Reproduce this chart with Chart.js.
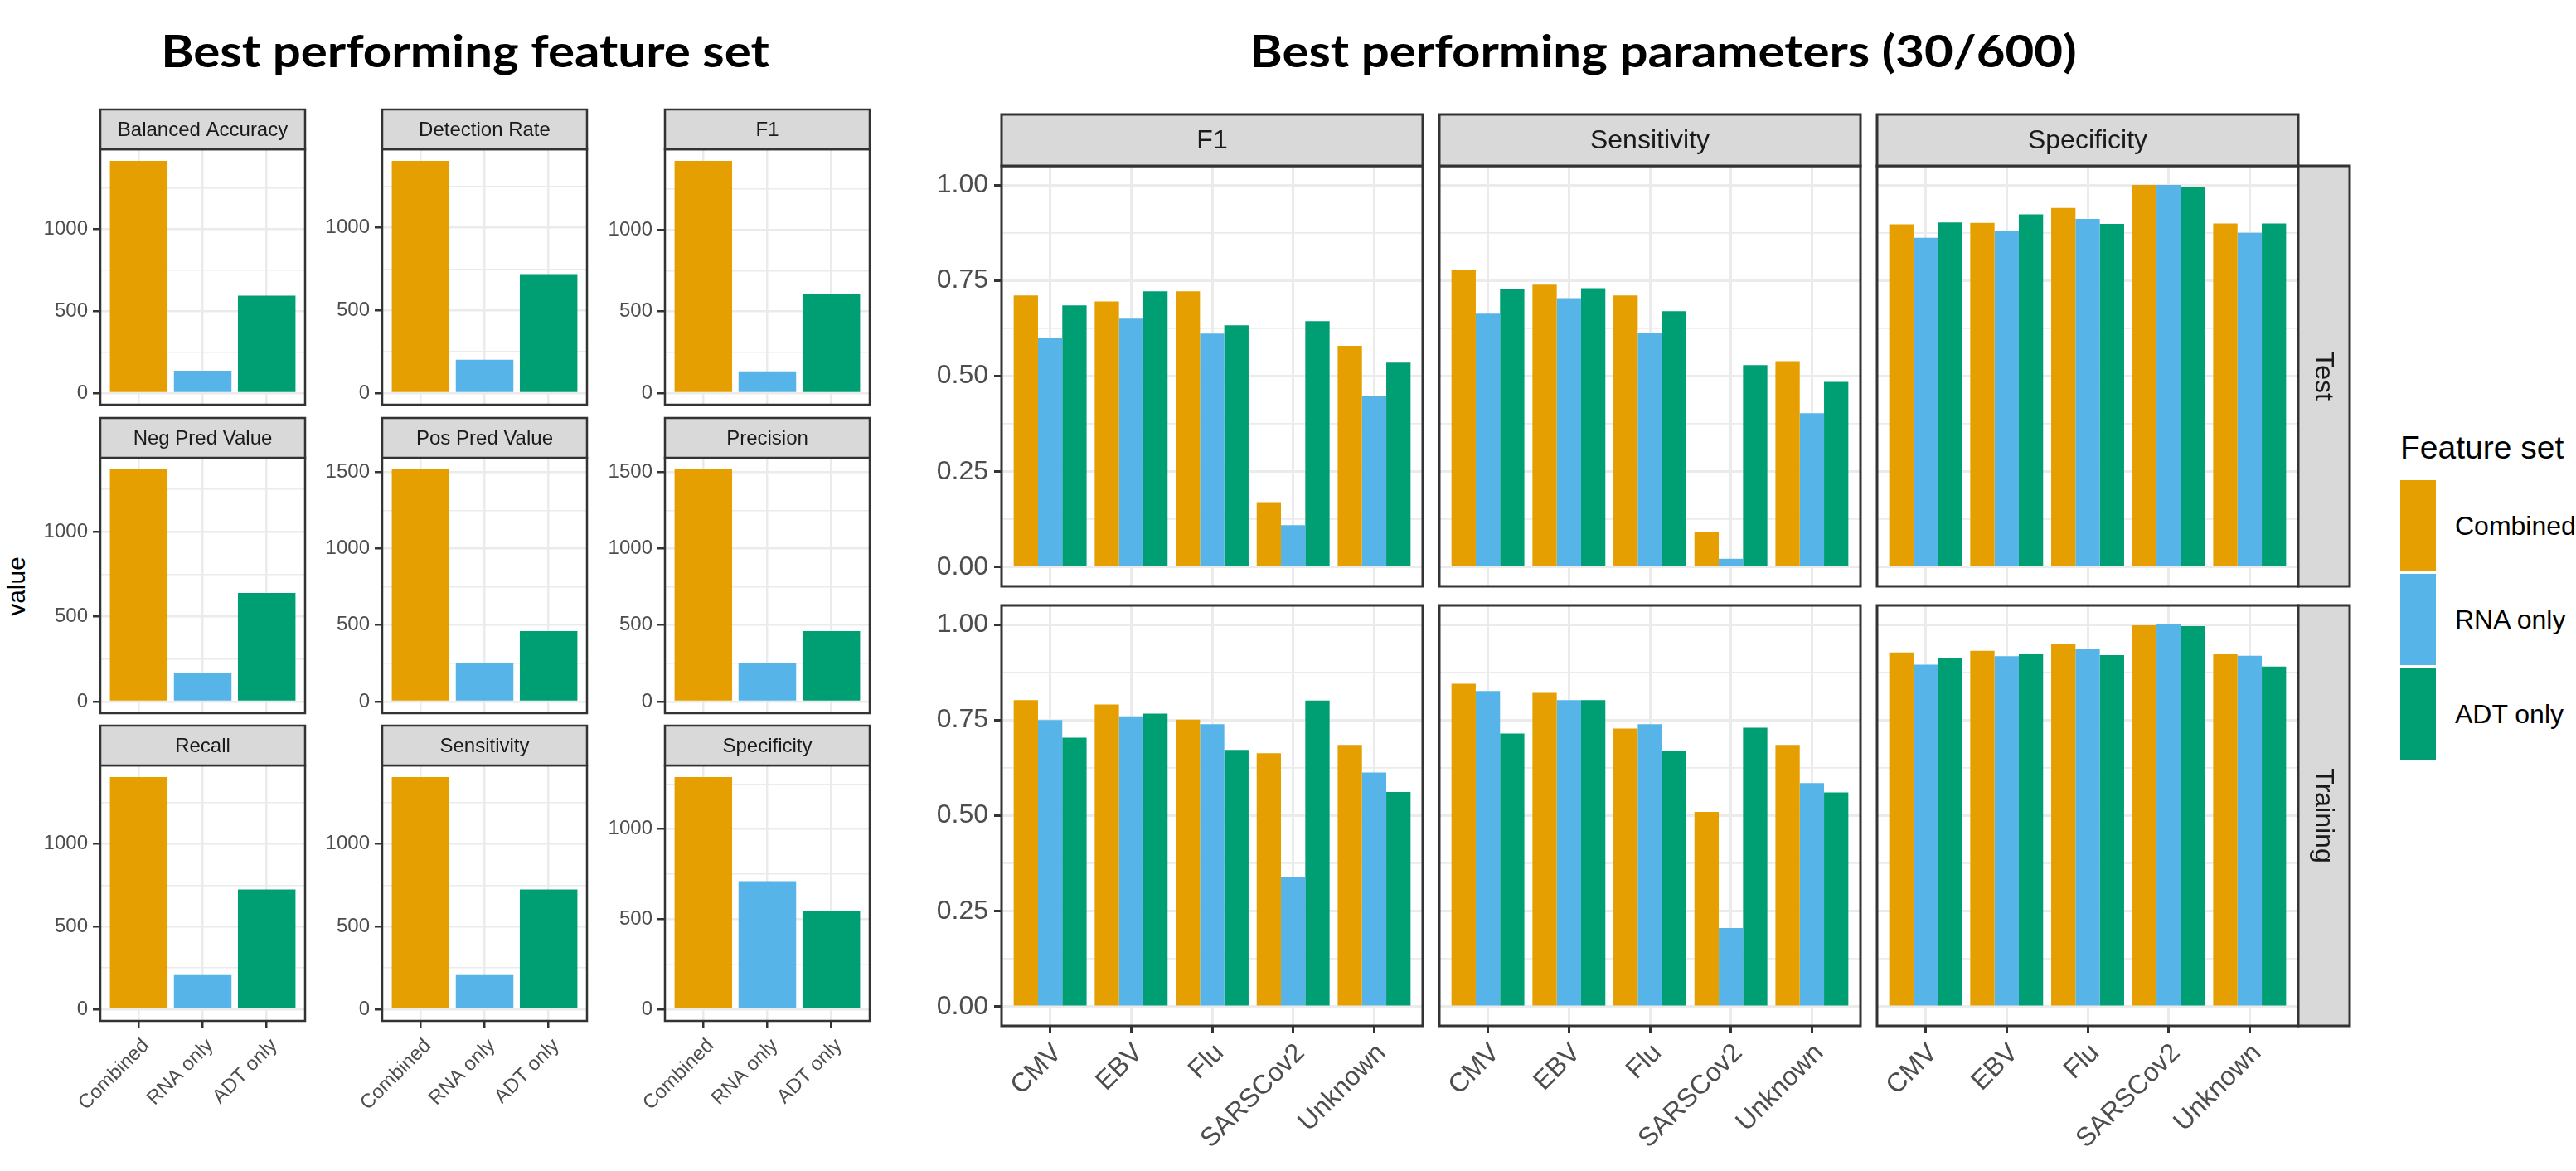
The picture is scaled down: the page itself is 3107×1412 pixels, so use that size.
<!DOCTYPE html>
<html>
<head>
<meta charset="utf-8">
<script src="https://cdn.jsdelivr.net/npm/chart.js@4.4.1/dist/chart.umd.min.js"></script>
<style>
  html, body { margin: 0; padding: 0; background: #ffffff; }
  body { width: 3107px; height: 1412px; position: relative; overflow: hidden; font-family: "Liberation Sans", Arial, sans-serif; }
  canvas { position: absolute; }
  .title { position: absolute; font-family: Lato, "Open Sans", sans-serif; font-weight: 700; font-size: 60px; line-height: 60px; height: 60px; color: #000; white-space: nowrap; text-align: center; transform: scaleY(0.89); transform-origin: 50% 50%; }
  .ylab { position: absolute; font-size: 30px; line-height: 1; color: #000; white-space: nowrap; transform: translate(-50%, -50%) rotate(-90deg); }
  .legtitle { position: absolute; font-size: 39px; line-height: 1; color: #000; white-space: nowrap; }
  .legkey { position: absolute; width: 43px; }
  .legtext { position: absolute; font-size: 32px; line-height: 1; color: #000; white-space: nowrap; }
</style>
</head>
<body>
<div class="title" style="left:61px; top:31px; width:1000px;">Best performing feature set</div>
<div class="title" style="left:1506px; top:31px; width:1000px;">Best performing parameters (30/600)</div>
<div class="ylab" style="left:20px; top:707px;">value</div>
<div id="legend"></div>

<script>
// Fill colours for the three feature sets
const seriesColors = ['#E69F00', '#56B4E9', '#009E73'];
const featureSets = ['Combined', 'RNA only', 'ADT only'];

// Left block: value per feature set for each metric facet
const metricNames = ['Balanced Accuracy', 'Detection Rate', 'F1',
                     'Neg Pred Value', 'Pos Pred Value', 'Precision',
                     'Recall', 'Sensitivity', 'Specificity'];
const balancedAccuracy = [1416, 137, 594];
const detectionRate    = [1402, 201, 718];
const f1Value          = [1422, 133, 605];
const negPredValue     = [1366, 166, 639];
const posPredValue     = [1517, 255, 460];
const precisionValue   = [1517, 255, 460];
const recallValue      = [1402, 206, 724];
const sensitivityValue = [1402, 206, 724];
const specificityValue = [1288, 711, 543];
const metricValues = [balancedAccuracy, detectionRate, f1Value,
                      negPredValue, posPredValue, precisionValue,
                      recallValue, sensitivityValue, specificityValue];

// Right block: per-antigen scores, rows [Combined, RNA only, ADT only]
const antigens = ['CMV', 'EBV', 'Flu', 'SARSCov2', 'Unknown'];
const scoreNames = ['F1', 'Sensitivity', 'Specificity'];
const splitNames = ['Test', 'Training'];
const testF1 = [
  [0.711, 0.695, 0.722, 0.170, 0.579],
  [0.599, 0.650, 0.611, 0.110, 0.449],
  [0.685, 0.722, 0.633, 0.644, 0.535]
];
const testSensitivity = [
  [0.777, 0.739, 0.711, 0.093, 0.539],
  [0.663, 0.704, 0.613, 0.022, 0.403],
  [0.727, 0.730, 0.670, 0.529, 0.485]
];
const testSpecificity = [
  [0.897, 0.901, 0.940, 1.000, 0.899],
  [0.862, 0.879, 0.911, 1.000, 0.875],
  [0.902, 0.923, 0.898, 0.996, 0.899]
];
const trainF1 = [
  [0.802, 0.791, 0.751, 0.663, 0.685],
  [0.750, 0.760, 0.739, 0.339, 0.613],
  [0.704, 0.767, 0.672, 0.801, 0.562]
];
const trainSensitivity = [
  [0.845, 0.821, 0.728, 0.510, 0.685],
  [0.826, 0.802, 0.739, 0.206, 0.585],
  [0.715, 0.802, 0.670, 0.730, 0.561]
];
const trainSpecificity = [
  [0.927, 0.931, 0.949, 0.998, 0.922],
  [0.895, 0.917, 0.936, 1.000, 0.918],
  [0.912, 0.923, 0.920, 0.996, 0.890]
];
const scoreGrid = [
  [testF1, testSensitivity, testSpecificity],
  [trainF1, trainSensitivity, trainSpecificity]
];

// Panel frame + strip labels drawn around each chart area
const facetFrame = {
  id: 'facetFrame',
  afterDraw(chart, args, opts) {
    const { ctx, chartArea: a } = chart;
    ctx.save();
    ctx.lineWidth = opts.borderW;
    ctx.strokeStyle = '#333333';
    ctx.strokeRect(a.left, a.top, a.right - a.left, a.bottom - a.top);
    ctx.font = opts.stripSize + 'px "Liberation Sans", Arial, sans-serif';
    ctx.textAlign = 'center';
    ctx.textBaseline = 'middle';
    if (opts.top) {
      const h = opts.stripH;
      ctx.fillStyle = '#d9d9d9';
      ctx.fillRect(a.left, a.top - h, a.right - a.left, h);
      ctx.strokeRect(a.left, a.top - h, a.right - a.left, h);
      ctx.fillStyle = '#1a1a1a';
      ctx.fillText(opts.top, (a.left + a.right) / 2, a.top - h / 2 + 1);
    }
    if (opts.side) {
      const w = opts.stripH;
      ctx.fillStyle = '#d9d9d9';
      ctx.fillRect(a.right, a.top, w, a.bottom - a.top);
      ctx.strokeRect(a.right, a.top, w, a.bottom - a.top);
      ctx.fillStyle = '#1a1a1a';
      ctx.translate(a.right + w / 2, (a.top + a.bottom) / 2);
      ctx.rotate(Math.PI / 2);
      ctx.fillText(opts.side, 0, 1);
    }
    ctx.restore();
  }
};

function drawFacet(o) {
  const canvas = document.createElement('canvas');
  const W = o.padL + o.w + o.padR, H = o.padT + o.h + o.padB;
  canvas.width = W; canvas.height = H;
  canvas.style.width = W + 'px'; canvas.style.height = H + 'px';
  canvas.style.left = (o.x - o.padL) + 'px';
  canvas.style.top = (o.y - o.padT) + 'px';
  document.body.appendChild(canvas);

  const half = o.yStep / 2;
  const yTicks = [];
  for (let k = 0; k * half <= o.yMax * 1.05 + 1e-9; k++) yTicks.push(+(k * half).toFixed(6));
  const isMajor = v => Math.abs(v / o.yStep - Math.round(v / o.yStep)) < 1e-6;
  const font = { family: '"Liberation Sans", Arial, sans-serif', size: o.tickSize };

  new Chart(canvas, {
    type: 'bar',
    data: { datasets: o.datasets },
    options: {
      responsive: false,
      animation: false,
      devicePixelRatio: 1,
      layout: { padding: { top: o.padT, right: o.padR, left: 0, bottom: 0 } },
      datasets: { bar: { categoryPercentage: 0.9, barPercentage: 1, borderWidth: 0 } },
      plugins: {
        legend: { display: false },
        tooltip: { enabled: false },
        facetFrame: { top: o.stripTop, side: o.stripSide, stripH: o.stripH, stripSize: o.stripSize, borderW: o.borderW }
      },
      scales: {
        x: {
          type: 'linear',
          offset: false,
          min: 0.4,
          max: o.labels.length + 0.6,
          afterBuildTicks: s => { s.ticks = o.labels.map((_, i) => ({ value: i + 1 })); },
          afterFit: s => { s.height = o.padB; s.paddingLeft = 0; s.paddingRight = 0; },
          border: { display: false },
          grid: {
            offset: false,
            color: '#ebebeb', lineWidth: o.majorW,
            drawTicks: o.showX, tickLength: o.tickLen, tickColor: '#333333', tickWidth: o.tickW
          },
          ticks: {
            display: o.showX, autoSkip: false, minRotation: 45, maxRotation: 45,
            padding: o.xPad, labelOffset: o.xOffset, color: '#4d4d4d', font,
            callback: v => o.labels[Math.round(v) - 1] || ''
          }
        },
        y: {
          type: 'linear',
          min: -0.05 * o.yMax,
          max: 1.05 * o.yMax,
          afterBuildTicks: s => { s.ticks = yTicks.map(v => ({ value: v })); },
          afterFit: s => { s.width = o.padL; s.paddingTop = 0; s.paddingBottom = 0; },
          border: { display: false },
          grid: {
            color: '#ebebeb',
            lineWidth: c => isMajor(c.tick.value) ? o.majorW : o.minorW,
            drawTicks: o.showY, tickLength: o.tickLen,
            tickColor: c => isMajor(c.tick.value) ? '#333333' : 'rgba(0,0,0,0)',
            tickWidth: o.tickW
          },
          ticks: {
            display: o.showY, autoSkip: false, padding: o.yPad, color: '#4d4d4d', font,
            callback: v => isMajor(v) ? o.fmt(v) : ''
          }
        }
      }
    },
    plugins: [facetFrame]
  });
}

// Left block: 3 x 3 facets with free y scales
const leftCols = [121, 461, 802];
const leftRows = [180, 552, 923];
metricValues.forEach((vals, i) => {
  const r = Math.floor(i / 3), c = i % 3;
  const bottom = r === 2;
  drawFacet({
    x: leftCols[c], y: leftRows[r], w: 247, h: 308,
    padL: 80, padT: 50, padR: 3, padB: bottom ? 150 : 3,
    labels: featureSets,
    datasets: [{ data: vals.map((v, j) => ({ x: j + 1, y: v })), backgroundColor: seriesColors }],
    yMax: Math.max(...vals), yStep: 500, fmt: v => String(v),
    showX: bottom, showY: true,
    tickSize: 24, stripSize: 24, stripH: 48, stripTop: metricNames[i],
    majorW: 2.5, minorW: 1.4, borderW: 2.5, tickW: 2.5, tickLen: 9,
    yPad: 6, xPad: 7, xOffset: 9
  });
});

// Right block: 2 x 3 facets sharing one y scale
const rightCols = [1208, 1736, 2264];
const rightRows = [200, 730];
const rightMax = Math.max(...scoreGrid.flat(3));
scoreGrid.forEach((row, r) => {
  row.forEach((series, c) => {
    const bottom = r === 1, first = c === 0, last = c === 2;
    drawFacet({
      x: rightCols[c], y: rightRows[r], w: 508, h: 507,
      padL: first ? 140 : (bottom ? 90 : 3), padT: r === 0 ? 64 : 3, padR: last ? 66 : 3, padB: bottom ? 200 : 3,
      labels: antigens,
      datasets: series.map((vals, k) => ({
        label: featureSets[k],
        data: vals.map((v, j) => ({ x: j + 1, y: v })),
        backgroundColor: seriesColors[k]
      })),
      yMax: rightMax, yStep: 0.25, fmt: v => v.toFixed(2),
      showX: bottom, showY: first,
      tickSize: 32, stripSize: 32, stripH: 62,
      stripTop: r === 0 ? scoreNames[c] : null,
      stripSide: last ? splitNames[r] : null,
      majorW: 3, minorW: 1.7, borderW: 3, tickW: 3, tickLen: 9,
      yPad: 7, xPad: 5, xOffset: 9
    });
  });
});

// Legend for the feature sets
const legend = document.getElementById('legend');
legend.innerHTML = '<div class="legtitle" style="left:2895px; top:520px;">Feature set</div>';
const keyTops = [579, 692, 806];
featureSets.forEach((name, k) => {
  legend.innerHTML +=
    '<div class="legkey" style="left:2895px; top:' + keyTops[k] + 'px; height:110px; background:' + seriesColors[k] + ';"></div>' +
    '<div class="legtext" style="left:2961px; top:' + (keyTops[k] + 55 - 16) + 'px;">' + name + '</div>';
});
</script>
</body>
</html>
